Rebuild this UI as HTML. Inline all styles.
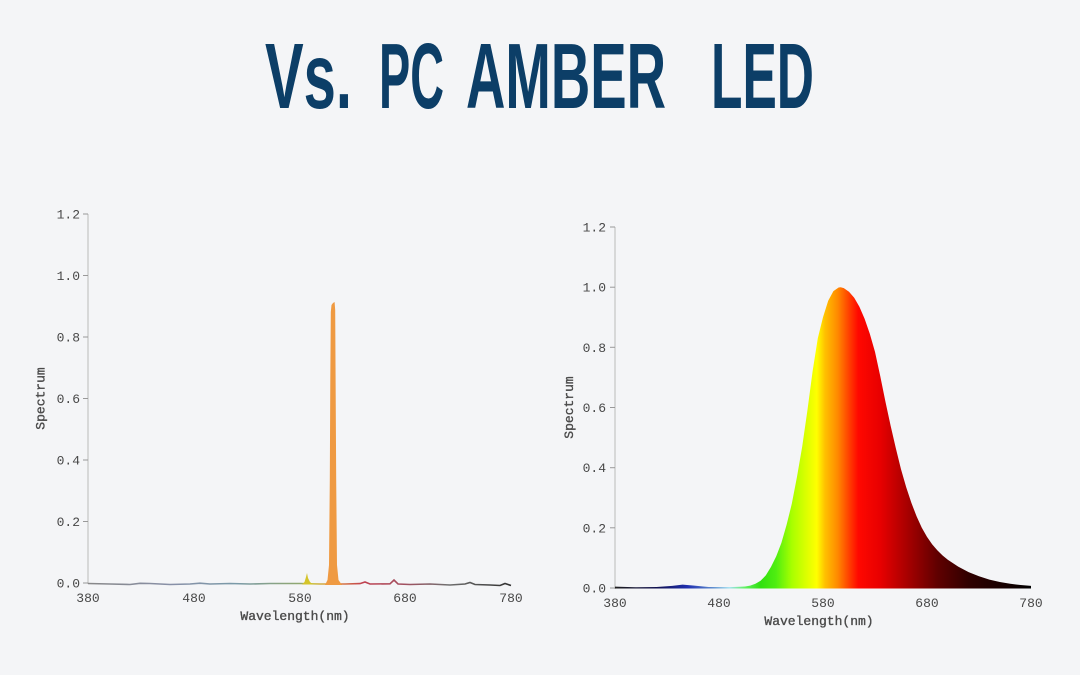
<!DOCTYPE html>
<html>
<head>
<meta charset="utf-8">
<style>
html,body{margin:0;padding:0;background:#f4f5f7;}
svg{display:block;}
.t{font-family:"Liberation Sans Narrow","Liberation Sans",sans-serif;font-weight:bold;fill:#0c3e67;font-size:93px;}
.m{font-family:"Liberation Mono",monospace;font-size:13px;fill:#474747;}
.a{font-family:"Liberation Mono",monospace;font-size:13px;fill:#4a4a4a;stroke:#4a4a4a;stroke-width:0.35;}
</style>
</head>
<body>
<svg width="1080" height="675" viewBox="0 0 1080 675" xmlns="http://www.w3.org/2000/svg">
<rect width="1080" height="675" fill="#f4f5f7"/>
<defs>
<linearGradient id="sp" gradientUnits="userSpaceOnUse" x1="615" y1="0" x2="1031" y2="0">
<stop offset="0" stop-color="#202020"/>
<stop offset="0.10" stop-color="#101050"/>
<stop offset="0.175" stop-color="#2030b0"/>
<stop offset="0.2375" stop-color="#6090d0"/>
<stop offset="0.275" stop-color="#a0e0f0"/>
<stop offset="0.3125" stop-color="#60f060"/>
<stop offset="0.35" stop-color="#30e010"/>
<stop offset="0.3875" stop-color="#50ee10"/>
<stop offset="0.425" stop-color="#a8ff00"/>
<stop offset="0.4625" stop-color="#e0ff00"/>
<stop offset="0.485" stop-color="#ffff00"/>
<stop offset="0.505" stop-color="#ffc000"/>
<stop offset="0.535" stop-color="#ff8a00"/>
<stop offset="0.5625" stop-color="#ff4000"/>
<stop offset="0.585" stop-color="#ff0800"/>
<stop offset="0.6375" stop-color="#e80000"/>
<stop offset="0.7" stop-color="#aa0000"/>
<stop offset="0.775" stop-color="#600000"/>
<stop offset="0.85" stop-color="#300000"/>
<stop offset="0.95" stop-color="#120000"/>
<stop offset="1" stop-color="#000000"/>
</linearGradient>
<linearGradient id="bl" gradientUnits="userSpaceOnUse" x1="88" y1="0" x2="511" y2="0">
<stop offset="0" stop-color="#888"/>
<stop offset="0.2" stop-color="#8890a8"/>
<stop offset="0.35" stop-color="#7a9aa8"/>
<stop offset="0.5" stop-color="#90a870"/>
<stop offset="0.53" stop-color="#c8c040"/>
<stop offset="0.58" stop-color="#e09040"/>
<stop offset="0.65" stop-color="#c04050"/>
<stop offset="0.75" stop-color="#a05060"/>
<stop offset="0.85" stop-color="#707070"/>
<stop offset="1" stop-color="#303030"/>
</linearGradient>
</defs>

<!-- Title -->
<text class="t" x="265" y="108" textLength="87" lengthAdjust="spacingAndGlyphs">Vs.</text>
<text class="t" x="379" y="108" textLength="65" lengthAdjust="spacingAndGlyphs">PC</text>
<text class="t" x="466" y="108" textLength="200" lengthAdjust="spacingAndGlyphs">AMBER</text>
<text class="t" x="711" y="108" textLength="103" lengthAdjust="spacingAndGlyphs">LED</text>

<!-- LEFT CHART -->
<line x1="88" y1="214" x2="88" y2="584" stroke="#c4c4c4" stroke-width="1.2"/>
<g stroke="#999" stroke-width="1">
<line x1="83" y1="214" x2="88" y2="214"/>
<line x1="83" y1="275.5" x2="88" y2="275.5"/>
<line x1="83" y1="337" x2="88" y2="337"/>
<line x1="83" y1="398.5" x2="88" y2="398.5"/>
<line x1="83" y1="460" x2="88" y2="460"/>
<line x1="83" y1="521.5" x2="88" y2="521.5"/>
<line x1="83" y1="583" x2="88" y2="583"/>
</g>
<g class="m" text-anchor="end">
<text x="80" y="218.5">1.2</text>
<text x="80" y="280">1.0</text>
<text x="80" y="341.5">0.8</text>
<text x="80" y="403">0.6</text>
<text x="80" y="464.5">0.4</text>
<text x="80" y="526">0.2</text>
<text x="80" y="587.5">0.0</text>
</g>
<g class="m" text-anchor="middle">
<text x="88" y="602">380</text>
<text x="194" y="602">480</text>
<text x="300" y="602">580</text>
<text x="405" y="602">680</text>
<text x="511" y="602">780</text>
</g>
<text class="a" text-anchor="middle" x="295" y="620">Wavelength(nm)</text>
<text class="a" text-anchor="middle" transform="translate(44.5,398.5) rotate(-90)">Spectrum</text>

<!-- left baseline -->
<polyline fill="none" stroke="url(#bl)" stroke-width="1.6" points="88,583.5 110,584 130,584.5 140,583.3 150,583.5 170,584.5 190,584 200,583.2 210,584 230,583.5 250,584 270,583.5 290,583.5 300,583.5 320,584 345,584 360,583.6 365,582 370,584 390,583.8 394,580 398,584 410,584.5 430,584 450,585 465,584 470,582.5 475,584.5 490,585 500,585.5 505,583.5 511,585.5"/>
<!-- small yellow peak -->
<polygon fill="#d4c42a" points="302,584.5 304.5,582 306,577 307,573 308,578 310,582 313,584.5"/>
<!-- main orange peak -->
<polygon fill="#ef9a42" points="325,585 327.5,580 329,565 329.8,480 330.3,380 330.8,312 331.5,305 333,303 334.6,302 335.2,310 335.6,380 336.2,480 337,565 338.5,580 342,585"/>

<!-- RIGHT CHART -->
<line x1="615" y1="227" x2="615" y2="589" stroke="#c4c4c4" stroke-width="1.2"/>
<g stroke="#999" stroke-width="1">
<line x1="610" y1="227" x2="615" y2="227"/>
<line x1="610" y1="287.2" x2="615" y2="287.2"/>
<line x1="610" y1="347.3" x2="615" y2="347.3"/>
<line x1="610" y1="407.5" x2="615" y2="407.5"/>
<line x1="610" y1="467.7" x2="615" y2="467.7"/>
<line x1="610" y1="527.8" x2="615" y2="527.8"/>
<line x1="610" y1="588" x2="615" y2="588"/>
</g>
<g class="m" text-anchor="end">
<text x="606" y="231.5">1.2</text>
<text x="606" y="291.7">1.0</text>
<text x="606" y="351.8">0.8</text>
<text x="606" y="412">0.6</text>
<text x="606" y="472.2">0.4</text>
<text x="606" y="532.3">0.2</text>
<text x="606" y="592.5">0.0</text>
</g>
<g class="m" text-anchor="middle">
<text x="615" y="607">380</text>
<text x="719" y="607">480</text>
<text x="823" y="607">580</text>
<text x="927" y="607">680</text>
<text x="1031" y="607">780</text>
</g>
<text class="a" text-anchor="middle" x="819" y="625">Wavelength(nm)</text>
<text class="a" text-anchor="middle" transform="translate(573,407.5) rotate(-90)">Spectrum</text>

<polygon fill="url(#sp)" points="615,588.5 615,586.6 635.8,587.2 656.6,587 672.2,585.9 682.6,584.6 693,585.5 708.6,587 729.4,587.1 739.8,586.8 745,586.5 750.2,585.6 755.4,583.8 760.6,580.8 765.8,575.4 771,566.9 776.2,556.4 781.4,542.9 786.6,524.8 791.8,503.8 797,476.7 802.2,446.6 807.4,410.5 812.6,371.4 817.8,338.3 823,317.3 828.2,300.7 833.4,291.1 838.6,287.5 840.7,287.2 843.8,288.1 849,291.7 854.2,297.7 859.4,306.7 864.6,318.8 869.8,333.8 875,351.9 880.2,375.9 885.4,401.5 890.6,425.6 895.8,448.1 901,469.2 906.2,487.2 911.4,502.9 916.6,516.4 921.8,527.8 927,536.9 932.2,544.4 937.4,550.4 942.6,555.5 947.8,559.7 958.2,566.6 968.6,572.1 979,576.3 989.4,579.6 999.8,582 1010.2,583.8 1020.6,585 1031,585.9 1031,588.5"/>
</svg>
</body>
</html>
